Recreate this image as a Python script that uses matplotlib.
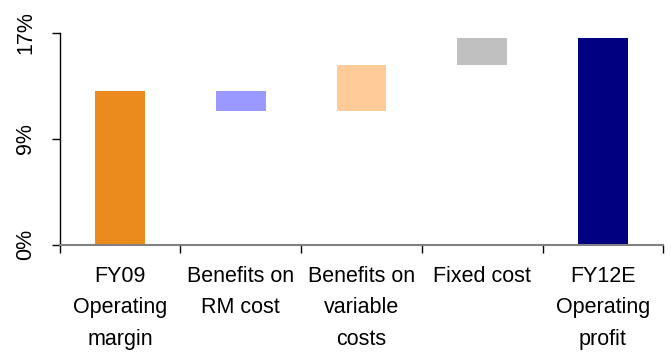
import matplotlib.pyplot as plt
import numpy as np

plt.rcParams['font.family'] = ['Liberation Sans', 'DejaVu Sans']

categories = ["FY09\nOperating\nmargin", "Benefits on\nRM cost", "Benefits on\nvariable\ncosts",
              "Fixed cost", "FY12E\nOperating\nprofit"]
start_margin = 12.3
changes = [-1.6, 3.7, 2.2]
end_margin = 16.6
colors = ['#EB8A1D', '#9999FF', '#FFCC99', '#C0C0C0', '#000080']

# floating bars: each step starts where the running total left off
bottoms = [0]
heights = [start_margin]
level = start_margin
for c in changes:
    bottoms.append(min(level, level + c))
    heights.append(abs(c))
    level += c
bottoms.append(0)
heights.append(end_margin)

fig = plt.figure(figsize=(6.71, 3.56), dpi=100)
ax = fig.add_axes([0.089, 0.312, 0.8995, 0.596])

x = np.arange(len(categories))
ax.bar(x, heights, bottom=bottoms, width=0.41, color=colors)

ax.set_xlim(-0.5, len(categories) - 0.5)
ax.set_ylim(0, 17)
ax.set_yticks([0, 8.5, 17])
ax.set_yticklabels(['0%', '9%', '17%'], rotation=90, va='center', fontsize=15.5)

ax.set_xticks(x)
ax.set_xticklabels(categories, fontsize=15.5, linespacing=1.65)
ax.set_xticks(np.arange(len(categories) + 1) - 0.5, minor=True)
ax.tick_params(axis='x', which='major', length=0, pad=15)
ax.tick_params(axis='x', which='minor', length=6, width=1, color='black', direction='out')
ax.tick_params(axis='y', length=6, width=1, direction='out', pad=11)

ax.spines['top'].set_visible(False)
ax.spines['right'].set_visible(False)
ax.spines['bottom'].set_color('#808080')
ax.spines['bottom'].set_linewidth(1.5)
ax.spines['left'].set_linewidth(1)

plt.savefig('out.png', dpi=100)
